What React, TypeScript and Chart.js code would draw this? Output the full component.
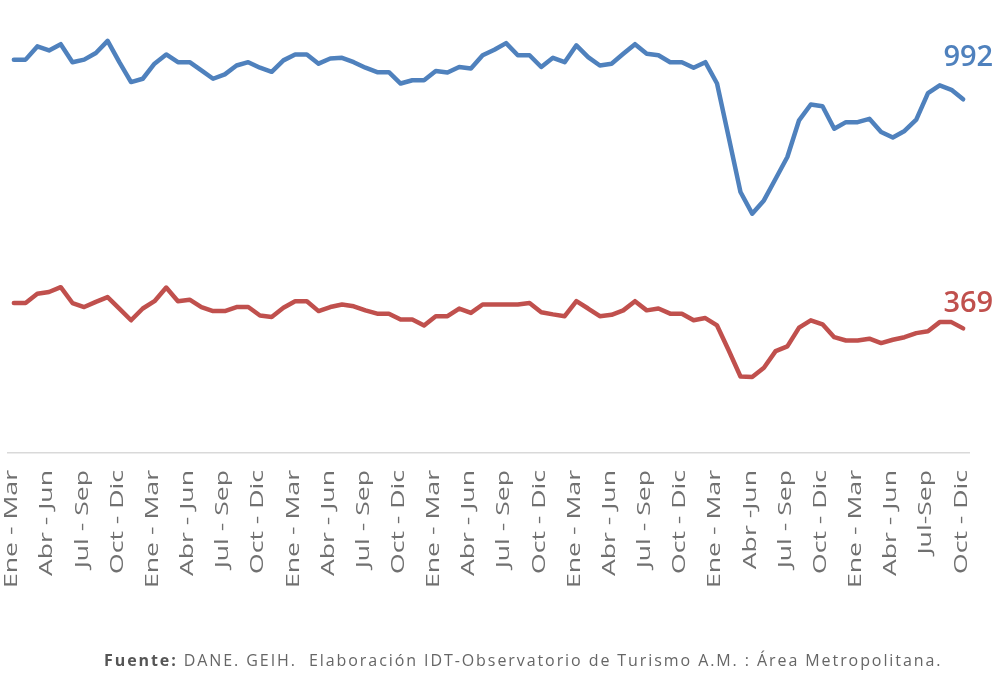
import React, { useEffect, useRef } from "react";
import { Chart, registerables } from "chart.js";

Chart.register(...registerables);

const periodNames = [
  "Ene - Mar", "Feb - Abr", "Mar - May", "Abr - Jun", "May - Jul", "Jun - Ago",
  "Jul - Sep", "Ago - Oct", "Sep - Nov", "Oct - Dic", "Nov - Ene", "Dic - Feb",
];
const years = ["2015", "2016", "2017", "2018", "2019", "2020", "2021"];
const categories: string[] = years
  .flatMap((y) => periodNames.map((p) => `${p} ${y}`))
  .slice(0, 82);

const tickLabels = [
  "Ene - Mar", "Abr - Jun", "Jul - Sep", "Oct - Dic",
  "Ene - Mar", "Abr - Jun", "Jul - Sep", "Oct - Dic",
  "Ene - Mar", "Abr - Jun", "Jul - Sep", "Oct - Dic",
  "Ene - Mar", "Abr - Jun", "Jul - Sep", "Oct - Dic",
  "Ene - Mar", "Abr - Jun", "Jul - Sep", "Oct - Dic",
  "Ene - Mar", "Abr -Jun", "Jul - Sep", "Oct - Dic",
  "Ene - Mar", "Abr - Jun", "Jul-Sep", "Oct - Dic",
];

const blueSeries = [
  1100, 1100, 1136, 1125, 1142, 1093, 1100, 1118, 1151, 1093,
  1039, 1048, 1089, 1114, 1093, 1093, 1071, 1048, 1060, 1084,
  1093, 1078, 1067, 1098, 1114, 1114, 1089, 1103, 1105, 1093,
  1078, 1066, 1066, 1035, 1044, 1044, 1069, 1065, 1080, 1076,
  1112, 1127, 1145, 1112, 1112, 1080, 1105, 1093, 1139, 1107,
  1084, 1089, 1116, 1142, 1116, 1112, 1093, 1093, 1078, 1093,
  1035, 888, 740, 681, 717, 776, 835, 935, 978, 973,
  912, 930, 930, 939, 903, 888, 906, 937, 1009, 1030,
  1018, 992,
];

const redSeries = [
  438, 438, 463, 468, 481, 438, 427, 441, 454, 423,
  391, 423, 443, 480, 443, 447, 427, 416, 416, 427,
  427, 404, 400, 425, 443, 443, 416, 427, 434, 429,
  418, 409, 409, 393, 393, 377, 402, 402, 423, 411,
  434, 434, 434, 434, 438, 413, 407, 402, 443, 423,
  402, 406, 418, 443, 418, 423, 409, 409, 391, 397,
  377, 309, 238, 237, 262, 307, 320, 371, 391, 380,
  345, 336, 336, 341, 329, 338, 345, 356, 361, 386,
  386, 369,
];

const endLabels = ["992", "369"];
const endLabelOffsets = [-33, -16];

const BLUE = "#4F81BD";
const RED = "#C0504D";

const endLabelPlugin = {
  id: "endLabels",
  afterDatasetsDraw(chart: any) {
    const ctx = chart.ctx;
    ctx.save();
    chart.data.datasets.forEach((ds: any, di: number) => {
      const meta = chart.getDatasetMeta(di);
      const last = meta.data[meta.data.length - 1];
      if (!last) return;
      ctx.font = "600 29px 'Open Sans'";
      ctx.fillStyle = ds.borderColor;
      ctx.textAlign = "right";
      ctx.textBaseline = "alphabetic";
      ctx.fillText(endLabels[di], last.x + 30, last.y + endLabelOffsets[di]);
    });
    ctx.restore();
  },
};

const tickLabelPlugin = {
  id: "stretchedTicks",
  afterDraw(chart: any) {
    const ctx = chart.ctx;
    const xs = chart.scales.x;
    const top = chart.chartArea.bottom + 17;
    ctx.save();
    ctx.fillStyle = "#707070";
    ctx.font = "19px 'Open Sans'";
    ctx.textAlign = "right";
    ctx.textBaseline = "middle";
    tickLabels.forEach((lab, k) => {
      const x = xs.getPixelForValue(k * 3);
      ctx.save();
      ctx.translate(x - 2, top);
      ctx.rotate(-Math.PI / 2);
      ctx.scale(1.4, 1);
      ctx.fillText(lab, 0, 0);
      ctx.restore();
    });
    ctx.restore();
  },
};

export default function App() {
  const ref = useRef<HTMLCanvasElement>(null);

  useEffect(() => {
    if (!ref.current) return;
    const chart = new Chart(ref.current, {
      type: "line",
      data: {
        labels: categories,
        datasets: [
          {
            data: blueSeries,
            borderColor: BLUE,
            backgroundColor: BLUE,
            borderWidth: 4.5,
            pointRadius: 0,
            tension: 0,
            borderJoinStyle: "round",
            borderCapStyle: "round",
          },
          {
            data: redSeries,
            borderColor: RED,
            backgroundColor: RED,
            borderWidth: 4.5,
            pointRadius: 0,
            tension: 0,
            borderJoinStyle: "round",
            borderCapStyle: "round",
          },
        ],
      },
      options: {
        animation: false,
        responsive: false,
        layout: { padding: { left: 8, right: 28, top: 10, bottom: 0 } },
        plugins: {
          legend: { display: false },
          tooltip: { enabled: false },
        },
        scales: {
          x: {
            offset: true,
            grid: { display: false, drawTicks: false },
            border: { display: true, color: "#d9d9d9", width: 1.5 },
            ticks: { display: false },
            afterFit: (scale: any) => {
              scale.height = 243;
              scale.paddingLeft = 0;
              scale.paddingRight = 0;
            },
          },
          y: {
            display: false,
            min: 30,
            max: 1235,
          },
        },
      },
      plugins: [endLabelPlugin, tickLabelPlugin],
    });
    return () => chart.destroy();
  }, []);

  return (
    <div
      style={{
        position: "absolute",
        left: 0,
        top: 0,
        width: 997,
        height: 696,
        background: "#fff",
      }}
    >
      <canvas ref={ref} width={997} height={696} style={{ display: "block" }} />
      <div
        style={{
          position: "absolute",
          left: 104,
          top: 649,
          fontFamily: "'Open Sans'",
          fontSize: 16,
          letterSpacing: 1.92,
          lineHeight: "normal",
          color: "#666",
          whiteSpace: "pre",
        }}
      >
        <b style={{ color: "#555", fontWeight: 700 }}>Fuente:</b>
        {" DANE. GEIH.  Elaboración IDT-Observatorio de Turismo A.M. : Área Metropolitana."}
      </div>
    </div>
  );
}
